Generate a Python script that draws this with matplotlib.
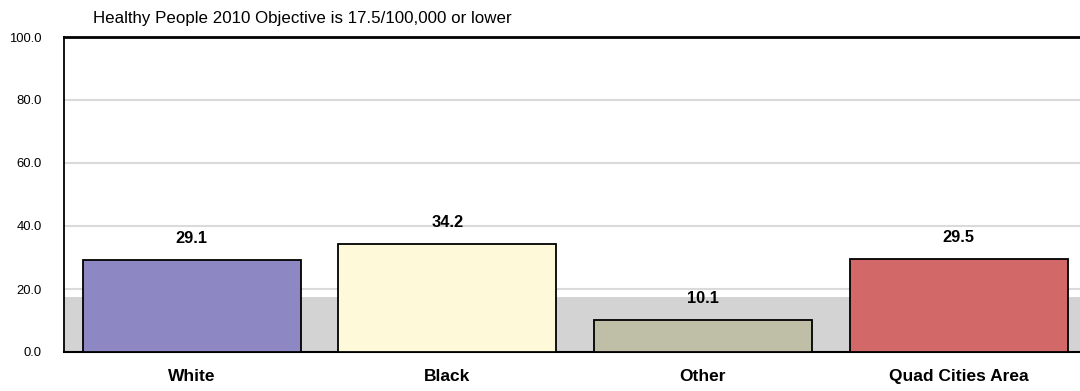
import numpy as np
import matplotlib
matplotlib.use('Agg')
import matplotlib.pyplot as plt

plt.rcParams['font.family'] = ['Liberation Sans', 'DejaVu Sans']

# data
categories = ['White', 'Black', 'Other', 'Quad Cities Area']
rates = [29.1, 34.2, 10.1, 29.5]
colors = ['#8d87c3', '#fef9d8', '#bfbfa7', '#d26868']
objective = 17.5
title_text = 'Healthy People 2010 Objective is 17.5/100,000 or lower'

fig = plt.figure(figsize=(10.8, 3.91), dpi=100)
ax = fig.add_axes([64 / 1080, 1 - 352 / 391, 1016 / 1080, 315 / 391])

x = np.arange(len(categories))

# gridlines and target band
for y in [20, 40, 60, 80]:
    ax.axhline(y, color='#dadada', lw=1.5, zorder=0)
ax.axhspan(0, objective, color='#d3d3d3', lw=0, zorder=1)

bars = ax.bar(x, rates, width=0.853, color=colors, edgecolor='black', linewidth=1.3, zorder=3)

for xi, v in zip(x, rates):
    ax.annotate(f'{v:.1f}', (xi, v), xytext=(0, 15.5), textcoords='offset points',
                ha='center', va='center', fontsize=11.8, fontweight='bold', zorder=4)

ax.set_xlim(-0.5, 3.475)
ax.set_ylim(0, 100)
ax.set_yticks([0, 20, 40, 60, 80, 100])
ax.set_yticklabels([f'{t:.1f}' for t in [0, 20, 40, 60, 80, 100]], fontsize=9.4)
ax.set_xticks(x)
ax.set_xticklabels(categories, fontsize=12.5, fontweight='bold')
ax.tick_params(axis='y', length=0, pad=16)
ax.tick_params(axis='x', length=0, pad=12)

ax.spines['right'].set_visible(False)
ax.spines['top'].set_linewidth(2)
ax.spines['left'].set_linewidth(1.3)
ax.spines['bottom'].set_linewidth(1.5)

fig.text(93 / 1080, 1 - 18 / 391, title_text, fontsize=12.2, va='center', ha='left')

fig.savefig('out.png', dpi=100)
